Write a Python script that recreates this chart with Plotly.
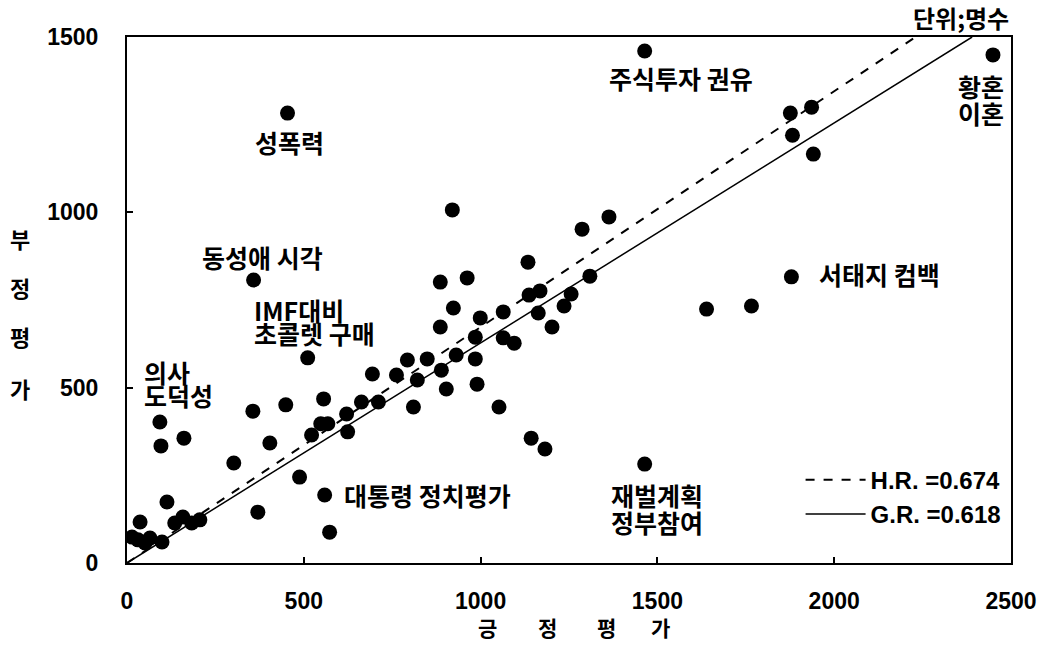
import plotly.graph_objects as go

# 긍정평가 (x) / 부정평가 (y) — 단위: 명수
pos_eval = [454, 1464, 2449, 1936, 1876, 1882, 1941, 1879, 1639, 1766,
            1464, 1363, 920, 1287, 1134, 886, 962, 923, 1137, 1168,
            1309, 1256, 1236, 1064, 999, 1163, 1202, 886, 985, 1064,
            1095, 511, 793, 849, 931, 985, 889, 762, 694, 821,
            903, 990, 1052, 810, 556, 621, 548, 568, 522, 624,
            663, 711, 1143, 1182, 358, 93, 96, 161, 356, 449,
            404, 302, 488, 559, 573, 370, 113, 37, 14, 31,
            51, 65, 99, 135, 158, 183, 206]
neg_eval = [1283, 1460, 1449, 1300, 1283, 1220, 1166, 816, 724, 733,
            282, 987, 1007, 952, 858, 801, 813, 727, 764, 776,
            818, 767, 733, 716, 699, 713, 673, 673, 644, 642,
            627, 585, 579, 582, 593, 582, 550, 536, 539, 522,
            496, 510, 445, 445, 468, 425, 397, 397, 365, 374,
            459, 459, 356, 325, 807, 402, 334, 356, 433, 451,
            342, 285, 245, 194, 88, 145, 174, 117, 74, 66,
            57, 71, 60, 114, 131, 114, 123]

# regression lines (as drawn)
hr_x = [0, 2230]
hr_y = [0, 1500]
gr_x = [0, 2390]
gr_y = [0, 1500]
hr_name = "H.R. =0.674"
gr_name = "G.R. =0.618"

# point labels
label_text = ["주식투자 권유", "황혼", "이혼", "성폭력", "동성애 시각",
              "IMF대비", "초콜렛 구매", "의사", "도덕성", "서태지 컴백",
              "대통령 정치평가", "재벌계획", "정부참여"]
label_x = [1566, 2415, 2415, 460, 384, 353, 353, 42, 42, 1950, 607, 1498, 1498]
label_y = [1383, 1360, 1283, 1200, 873, 721, 656, 545, 479, 824, 194, 194, 117]
label_anchor = ["center", "center", "center", "center", "center",
                "left", "left", "left", "left", "left", "left", "center", "center"]

x_title_chars = ["긍", "정", "평", "가"]
x_title_pos = [1019, 1188, 1357, 1510]
y_title_chars = ["부", "정", "평", "가"]
y_title_pos = [927, 787, 647, 499]

x_ticks = [0, 500, 1000, 1500, 2000, 2500]
y_ticks = [0, 500, 1000, 1500]

KFONT = "Noto Sans CJK KR"
NFONT = "Liberation Sans"

fig = go.Figure()
fig.add_trace(go.Scatter(x=hr_x, y=hr_y, mode="lines", name=hr_name,
                         line=dict(color="black", width=2, dash="dash")))
fig.add_trace(go.Scatter(x=gr_x, y=gr_y, mode="lines", name=gr_name,
                         line=dict(color="black", width=1.5)))
fig.add_trace(go.Scatter(x=pos_eval, y=neg_eval, mode="markers", showlegend=False,
                         marker=dict(color="black", size=15, line=dict(width=0))))

ann = []
for t, x, y, a in zip(label_text, label_x, label_y, label_anchor):
    ann.append(dict(text=t, x=x, y=y, xref="x", yref="y", showarrow=False,
                    xanchor=a, yanchor="middle",
                    font=dict(family=KFONT, size=25, color="black", weight="bold")))
for t, x in zip(x_title_chars, x_title_pos):
    ann.append(dict(text=t, x=x, y=-0.122, xref="x", yref="paper", showarrow=False,
                    xanchor="center", yanchor="middle",
                    font=dict(family=KFONT, size=21, color="black", weight="bold")))
for t, y in zip(y_title_chars, y_title_pos):
    ann.append(dict(text=t, x=-0.121, y=y, xref="paper", yref="y", showarrow=False,
                    xanchor="center", yanchor="middle",
                    font=dict(family=KFONT, size=22, color="black", weight="bold")))
ann.append(dict(text="단위;명수", x=1.0, y=1.0, xref="paper", yref="paper",
                showarrow=False, xanchor="right", yanchor="bottom", yshift=0,
                font=dict(family=KFONT, size=24, color="black", weight="bold")))

axis_common = dict(showline=True, linecolor="black", linewidth=2, mirror=True,
                   ticks="inside", ticklen=6, tickwidth=2, tickcolor="black",
                   showgrid=False, zeroline=False,
                   tickfont=dict(family=NFONT, size=23, color="black", weight="bold"))

fig.update_layout(
    width=1049, height=645,
    margin=dict(l=127, r=36, t=37, b=82),
    paper_bgcolor="white", plot_bgcolor="white",
    xaxis=dict(range=[0, 2500], tickvals=x_ticks, ticklabelstandoff=16, **axis_common),
    yaxis=dict(range=[0, 1500], tickvals=y_ticks, ticklabelstandoff=22, **axis_common),
    annotations=ann,
    showlegend=True,
    legend=dict(x=0.995, y=0.05, xanchor="right", yanchor="bottom",
                bgcolor="rgba(0,0,0,0)", itemwidth=60, tracegroupgap=0,
                font=dict(family=NFONT, size=24, color="black", weight="bold")),
)

fig.write_html("out.html", config={"displayModeBar": False},
               post_script="document.body.style.margin='0';document.body.style.overflow='hidden';")
